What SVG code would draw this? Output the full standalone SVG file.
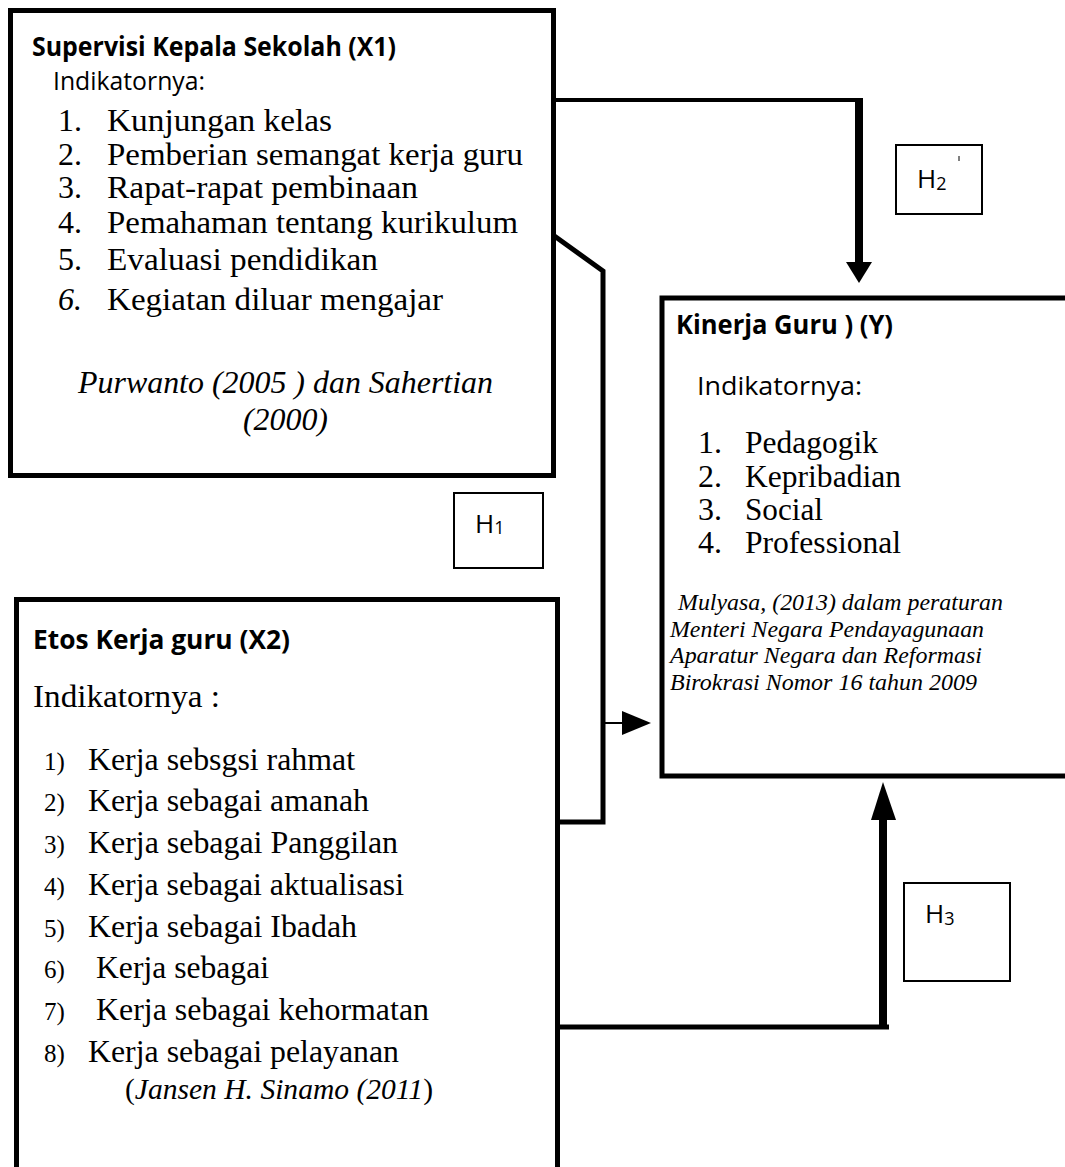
<svg xmlns="http://www.w3.org/2000/svg" width="1065" height="1167" viewBox="0 0 1065 1167">
<style>
.box{fill:none;stroke:#000;stroke-width:5}
.hbox{fill:#fff;stroke:#000;stroke-width:2}
.title{font-family:"Open Sans","Liberation Sans",sans-serif;font-weight:bold;font-size:26px;fill:#000}
.sans{font-family:"Open Sans","Liberation Sans",sans-serif;font-size:26px;fill:#000}
.serif{font-family:"Liberation Serif","Times New Roman",serif;font-size:32px;fill:#000}
.num{font-family:"Liberation Serif","Times New Roman",serif;font-size:25px;fill:#000}
.it{font-family:"Liberation Serif","Times New Roman",serif;font-style:italic;fill:#000}
.line{fill:none;stroke:#000}
</style>
<rect width="1065" height="1167" fill="#fff"/>

<g id="connectors">
  <path class="line" d="M553,100 H863" stroke-width="4"/>
  <path class="line" d="M859,98 V263" stroke-width="8"/>
  <polygon points="846,262 872,262 859,283" fill="#000"/>
  <path class="line" d="M553,235 L603,271 V822 H558" stroke-width="5"/>
  <path class="line" d="M603,723 H623" stroke-width="2"/>
  <polygon points="622,711 651,723 622,735" fill="#000"/>
  <path class="line" d="M558,1027 H889" stroke-width="5"/>
  <path class="line" d="M883,1029 V819" stroke-width="8"/>
  <polygon points="871,820 896,820 883,782" fill="#000"/>
</g>

<g id="x1">
  <rect class="box" x="10.5" y="10.5" width="543" height="465"/>
  <text class="title" x="32" y="56" font-size="25" textLength="364" lengthAdjust="spacingAndGlyphs">Supervisi Kepala Sekolah (X1)</text>
  <text class="sans" x="53" y="90" font-size="24" textLength="152" lengthAdjust="spacingAndGlyphs">Indikatornya:</text>
  <g class="serif">
    <text x="58" y="131">1.</text><text x="107" y="131" textLength="225" lengthAdjust="spacingAndGlyphs">Kunjungan kelas</text>
    <text x="58" y="165">2.</text><text x="107" y="165" textLength="416" lengthAdjust="spacingAndGlyphs">Pemberian semangat kerja guru</text>
    <text x="58" y="198">3.</text><text x="107" y="198" textLength="311" lengthAdjust="spacingAndGlyphs">Rapat-rapat pembinaan</text>
    <text x="58" y="233">4.</text><text x="107" y="233" textLength="411" lengthAdjust="spacingAndGlyphs">Pemahaman tentang kurikulum</text>
    <text x="58" y="270">5.</text><text x="107" y="270" textLength="271" lengthAdjust="spacingAndGlyphs">Evaluasi pendidikan</text>
    <text x="58" y="310" font-style="italic">6.</text><text x="107" y="310" textLength="336" lengthAdjust="spacingAndGlyphs">Kegiatan diluar mengajar</text>
  </g>
  <text class="it" x="78" y="393" font-size="31" textLength="415" lengthAdjust="spacingAndGlyphs">Purwanto (2005 ) dan Sahertian</text>
  <text class="it" x="243" y="430" font-size="31" textLength="85" lengthAdjust="spacingAndGlyphs">(2000)</text>
</g>

<g id="h2">
  <rect class="hbox" x="896" y="145" width="86" height="69"/>
  <text class="sans" x="917" y="188" font-size="27">H<tspan font-size="18" dy="2">2</tspan></text>
  <line x1="959" y1="156" x2="959" y2="161" stroke="#000" stroke-width="1"/>
</g>

<g id="y">
  <rect class="box" x="662" y="298" width="420" height="478" stroke-width="6"/>
  <text class="title" x="676" y="334" textLength="217" lengthAdjust="spacingAndGlyphs">Kinerja Guru ) (Y)</text>
  <text class="sans" x="697" y="395" textLength="165" lengthAdjust="spacingAndGlyphs">Indikatornya:</text>
  <g class="serif">
    <text x="698" y="453">1.</text><text x="745" y="453" textLength="133" lengthAdjust="spacingAndGlyphs">Pedagogik</text>
    <text x="698" y="487">2.</text><text x="745" y="487" textLength="156" lengthAdjust="spacingAndGlyphs">Kepribadian</text>
    <text x="698" y="520">3.</text><text x="745" y="520" textLength="78" lengthAdjust="spacingAndGlyphs">Social</text>
    <text x="698" y="553">4.</text><text x="745" y="553" textLength="156" lengthAdjust="spacingAndGlyphs">Professional</text>
  </g>
  <g class="it" font-size="23">
    <text x="678" y="610" textLength="325" lengthAdjust="spacingAndGlyphs">Mulyasa, (2013) dalam peraturan</text>
    <text x="670" y="637" textLength="314" lengthAdjust="spacingAndGlyphs">Menteri Negara Pendayagunaan</text>
    <text x="670" y="663" textLength="312" lengthAdjust="spacingAndGlyphs">Aparatur Negara dan Reformasi</text>
    <text x="670" y="690" textLength="307" lengthAdjust="spacingAndGlyphs">Birokrasi Nomor 16 tahun 2009</text>
  </g>
</g>

<g id="h1">
  <rect class="hbox" x="454" y="493" width="89" height="75"/>
  <text class="sans" x="475" y="533" font-size="27">H<tspan font-size="18" dy="1">1</tspan></text>
</g>

<g id="x2">
  <rect class="box" x="16.5" y="599.5" width="541" height="600"/>
  <text class="title" x="33" y="649" textLength="257" lengthAdjust="spacingAndGlyphs">Etos Kerja guru  (X2)</text>
  <text class="serif" x="33" y="707" textLength="187" lengthAdjust="spacingAndGlyphs">Indikatornya :</text>
  <g class="num">
    <text x="44" y="770">1)</text>
    <text x="44" y="811">2)</text>
    <text x="44" y="853">3)</text>
    <text x="44" y="895">4)</text>
    <text x="44" y="937">5)</text>
    <text x="44" y="978">6)</text>
    <text x="44" y="1020">7)</text>
    <text x="44" y="1062">8)</text>
  </g>
  <g class="serif">
    <text x="88" y="770" textLength="267" lengthAdjust="spacingAndGlyphs">Kerja sebsgsi rahmat</text>
    <text x="88" y="811" textLength="281" lengthAdjust="spacingAndGlyphs">Kerja sebagai amanah</text>
    <text x="88" y="853" textLength="310" lengthAdjust="spacingAndGlyphs">Kerja sebagai Panggilan</text>
    <text x="88" y="895" textLength="316" lengthAdjust="spacingAndGlyphs">Kerja sebagai aktualisasi</text>
    <text x="88" y="937" textLength="269" lengthAdjust="spacingAndGlyphs">Kerja sebagai Ibadah</text>
    <text x="96" y="978" textLength="173" lengthAdjust="spacingAndGlyphs">Kerja sebagai</text>
    <text x="96" y="1020" textLength="333" lengthAdjust="spacingAndGlyphs">Kerja sebagai kehormatan</text>
    <text x="88" y="1062" textLength="311" lengthAdjust="spacingAndGlyphs">Kerja sebagai pelayanan</text>
  </g>
  <text x="125" y="1099" font-family="Liberation Serif, Times New Roman, serif" font-size="29" textLength="308" lengthAdjust="spacingAndGlyphs">(<tspan font-style="italic">Jansen H. Sinamo (2011</tspan>)</text>
</g>

<g id="h3">
  <rect class="hbox" x="904" y="883" width="106" height="98"/>
  <text class="sans" x="925" y="923" font-size="27">H<tspan font-size="18" dy="2">3</tspan></text>
</g>
</svg>
